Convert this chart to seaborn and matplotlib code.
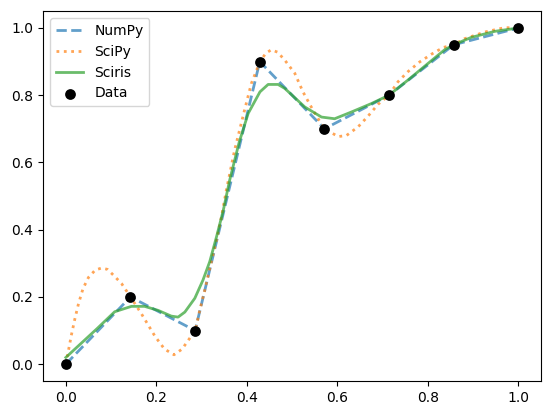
import matplotlib
matplotlib.use('Agg')
import matplotlib.pyplot as plt
import seaborn as sns
import numpy as np

# data points
data_x = [0.0, 1/7, 2/7, 3/7, 4/7, 5/7, 6/7, 1.0]
data_y = [0.0, 0.2, 0.1, 0.9, 0.7, 0.8, 0.95, 1.0]

# SciPy curve
scipy_x = [0.0, 0.005, 0.012, 0.02, 0.028, 0.038, 0.05, 0.065, 0.079, 0.092, 0.105, 0.123,
           0.143, 0.167, 0.197, 0.218, 0.239, 0.257, 0.27, 0.286, 0.296, 0.307, 0.318, 0.333,
           0.344, 0.355, 0.373, 0.395, 0.41, 0.429, 0.442, 0.454, 0.468, 0.484, 0.506, 0.524,
           0.546, 0.571, 0.602, 0.62, 0.646, 0.668, 0.69, 0.714, 0.734, 0.756, 0.782, 0.808,
           0.834, 0.857, 0.881, 0.926, 0.97, 1.0]
scipy_y = [0.0, 0.035, 0.085, 0.135, 0.18, 0.225, 0.258, 0.28, 0.286, 0.282, 0.265, 0.24,
           0.2, 0.15, 0.083, 0.045, 0.028, 0.045, 0.07, 0.1, 0.161, 0.22, 0.285, 0.37,
           0.439, 0.52, 0.637, 0.756, 0.835, 0.9, 0.925, 0.935, 0.928, 0.904, 0.865, 0.81,
           0.756, 0.7, 0.677, 0.68, 0.706, 0.738, 0.773, 0.8, 0.84, 0.87, 0.899, 0.922,
           0.942, 0.95, 0.968, 0.988, 1.001, 1.0]

# Sciris curve
sciris_x = [0.0, 0.07, 0.108, 0.145, 0.174, 0.204, 0.233, 0.248, 0.263, 0.285, 0.303, 0.318,
            0.333, 0.348, 0.362, 0.383, 0.403, 0.429, 0.447, 0.469, 0.484, 0.528, 0.565,
            0.594, 0.631, 0.675, 0.714, 0.756, 0.80, 0.837, 0.857, 0.896, 0.948, 1.0]
sciris_y = [0.02, 0.107, 0.156, 0.172, 0.172, 0.16, 0.143, 0.14, 0.155, 0.196, 0.25, 0.305,
            0.379, 0.458, 0.547, 0.66, 0.746, 0.81, 0.832, 0.832, 0.82, 0.765, 0.735,
            0.73, 0.75, 0.775, 0.80, 0.845, 0.894, 0.935, 0.95, 0.972, 0.99, 1.0]

fig, ax = plt.subplots(figsize=(5.47, 4.13), dpi=100)
fig.subplots_adjust(left=0.079, right=0.989, bottom=0.0775, top=0.973)

sns.lineplot(x=data_x, y=data_y, ax=ax, color='C0', linestyle='--', lw=2, alpha=0.7, label='NumPy')
sns.lineplot(x=scipy_x, y=scipy_y, ax=ax, color='C1', linestyle=':', lw=2, alpha=0.7, label='SciPy')
sns.lineplot(x=sciris_x, y=sciris_y, ax=ax, color='C2', linestyle='-', lw=2, alpha=0.7, label='Sciris')
sns.scatterplot(x=data_x, y=data_y, ax=ax, color='black', s=60, linewidth=0, label='Data', zorder=3)

ax.set_xlim(-0.05, 1.05)
ax.set_ylim(-0.05, 1.05)
ax.set_xticks([0.0, 0.2, 0.4, 0.6, 0.8, 1.0])
ax.set_yticks([0.0, 0.2, 0.4, 0.6, 0.8, 1.0])
ax.legend(loc='upper left')

plt.savefig('out.png', dpi=100)
